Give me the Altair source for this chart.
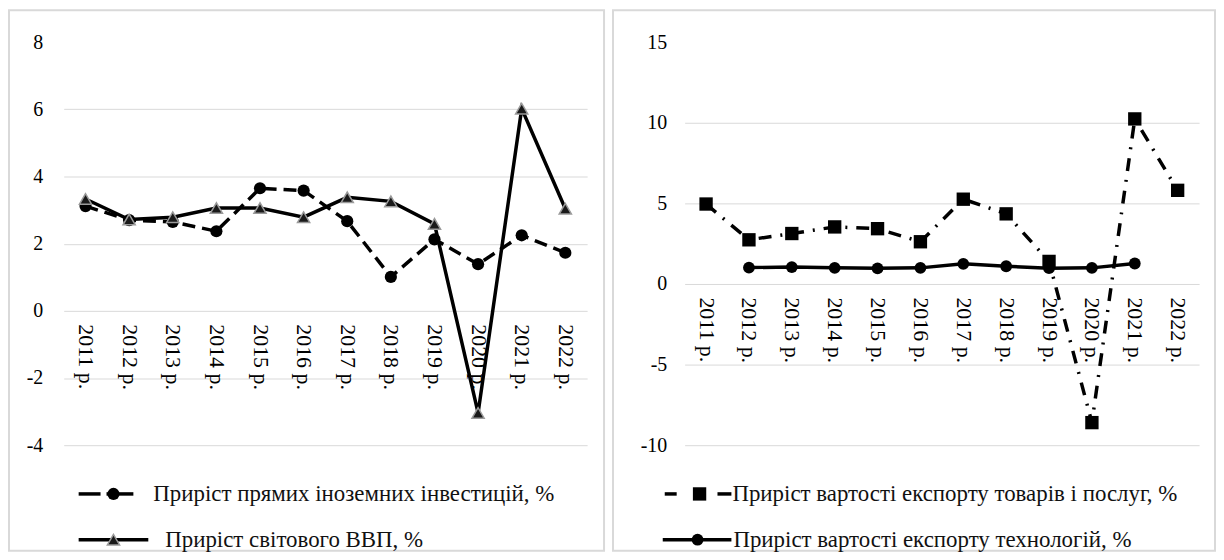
import altair as alt
import pandas as pd

years = ["2011 р.", "2012 р.", "2013 р.", "2014 р.", "2015 р.", "2016 р.",
         "2017 р.", "2018 р.", "2019 р.", "2020 р.", "2021 р.", "2022 р."]

# Left panel
fdi_name = "Приріст прямих іноземних інвестицій, %"
fdi = [3.12, 2.7, 2.65, 2.37, 3.65, 3.58, 2.67, 1.01, 2.13, 1.39, 2.25, 1.73]
gdp_name = "Приріст світового ВВП, %"
gdp = [3.33, 2.72, 2.79, 3.06, 3.06, 2.79, 3.38, 3.26, 2.59, -3.04, 6.02, 3.04]
left_ticks = [-4, -2, 0, 2, 4, 6, 8]

# Right panel
exp_name = "Приріст вартості  експорту товарів і послуг, %"
exp_goods = [4.96, 2.74, 3.13, 3.54, 3.43, 2.62, 5.26, 4.35, 1.4, -8.6, 10.24, 5.81]
tech_name = "Приріст вартості експорту технологій, %"
tech_years = years[1:11]
tech = [1.02, 1.05, 1.0, 0.97, 1.0, 1.25, 1.1, 0.98, 1.0, 1.27]
right_ticks = [-10, -5, 0, 5, 10, 15]

FONT = "'Liberation Serif', 'Times New Roman', serif"
GRID = "#d9d9d9"
H = 405


def xenc(offset):
    return alt.X("year:O", scale=alt.Scale(domain=years),
                 axis=alt.Axis(title=None, labelAngle=90, labelAlign="left",
                               labelBaseline="middle", offset=offset, domain=False,
                               ticks=False, grid=False, labelPadding=13,
                               labelFont=FONT, labelFontSize=22, labelColor="#000"))


def yenc(dom, ticks, pad):
    top = ticks[-1]
    return alt.Y("v:Q", scale=alt.Scale(domain=dom, nice=False, zero=False),
                 axis=alt.Axis(title=None, values=ticks, domain=False, ticks=False,
                               labelExpr="'' + datum.value",
                               labelPadding=pad, labelFont=FONT, labelFontSize=20,
                               labelColor="#000", gridColor=GRID, gridWidth=1,
                               gridOpacity={"condition": {"test": f"datum.value === {top}", "value": 0},
                                            "value": 1}))


def legend_text(name, x, y):
    return alt.Chart(pd.DataFrame({"label": [name]})).mark_text(
        align="left", baseline="middle", font=FONT, fontSize=23, color="#111"
    ).encode(x=alt.value(x), y=alt.value(y), text="label:N")


def legend_rule(name, x1, x2, y, dash=None):
    kw = dict(color="black", strokeWidth=3.5)
    if dash:
        kw["strokeDash"] = dash
    return alt.Chart(pd.DataFrame({"label": [name]})).mark_rule(**kw).encode(
        x=alt.value(x1), x2=alt.value(x2), y=alt.value(y))


def legend_point(name, x, y, **kw):
    return alt.Chart(pd.DataFrame({"label": [name]})).mark_point(**kw).encode(
        x=alt.value(x), y=alt.value(y))


def border(w, x1, x2):
    return alt.Chart(pd.DataFrame({"b": [0]})).mark_rect(
        fillOpacity=0, stroke=GRID, strokeWidth=2
    ).encode(x=alt.value(x1), x2=alt.value(w + x2), y=alt.value(-32), y2=alt.value(H + 106))


# ---- Left panel ----
WL = 526
xl = xenc(-(H * 4 / 12))
yl = yenc([-4, 8], left_ticks, 21)
df_fdi = pd.DataFrame({"year": years, "v": fdi})
df_gdp = pd.DataFrame({"year": years, "v": gdp})

circle_kw = dict(shape="circle", filled=True, color="black", opacity=1, size=150)
tri_kw = dict(shape="triangle-up", filled=True, fill="#1a1a1a", stroke="#9a9a9a",
              strokeWidth=1.5, opacity=1, size=150)
square_kw = dict(shape="square", filled=True, color="black", opacity=1, size=180)
tcircle_kw = dict(shape="circle", filled=True, color="black", opacity=1, size=140)

left = alt.layer(
    border(WL, -55, 17),
    alt.Chart(df_fdi).mark_line(color="black", strokeWidth=3.5, strokeDash=[13, 7]).encode(x=xl, y=yl),
    alt.Chart(df_fdi).mark_point(**circle_kw).encode(x=xl, y=yl),
    alt.Chart(df_gdp).mark_line(color="black", strokeWidth=3.5).encode(x=xl, y=yl),
    alt.Chart(df_gdp).mark_point(**tri_kw).encode(x=xl, y=yl),
    legend_rule(fdi_name, 15, 37, 454),
    legend_rule(fdi_name, 43, 70, 454),
    legend_point(fdi_name, 50, 454, **circle_kw),
    legend_text(fdi_name, 90, 454),
    legend_rule(gdp_name, 15, 85, 500),
    legend_point(gdp_name, 50, 500, **tri_kw),
    legend_text(gdp_name, 102, 500),
).properties(width=WL, height=H)

# ---- Right panel ----
WR = 517
xr = xenc(-(H * 10 / 25))
yr = yenc([-10, 15], right_ticks, 18)
df_exp = pd.DataFrame({"year": years, "v": exp_goods})
df_tech = pd.DataFrame({"year": tech_years, "v": tech})

right = alt.layer(
    border(WR, -72, 16),
    alt.Chart(df_exp).mark_line(color="black", strokeWidth=3.5, strokeDash=[13, 9, 2, 9]).encode(x=xr, y=yr),
    alt.Chart(df_exp).mark_point(**square_kw).encode(x=xr, y=yr),
    alt.Chart(df_tech).mark_line(color="black", strokeWidth=3.5).encode(x=xr, y=yr),
    alt.Chart(df_tech).mark_point(**tcircle_kw).encode(x=xr, y=yr),
    legend_rule(exp_name, -20, -8, 454),
    legend_point(exp_name, 15, 454, **square_kw),
    legend_rule(exp_name, 33, 47, 454),
    legend_text(exp_name, 48, 454),
    legend_rule(tech_name, -22, 47, 500),
    legend_point(tech_name, 13, 500, **tcircle_kw),
    legend_text(tech_name, 49, 500),
).properties(width=WR, height=H)

chart = alt.hconcat(left, right, spacing=7).properties(padding=0).configure_view(stroke=None)

chart.save("out.html", embed_options={"renderer": "svg", "actions": False})
